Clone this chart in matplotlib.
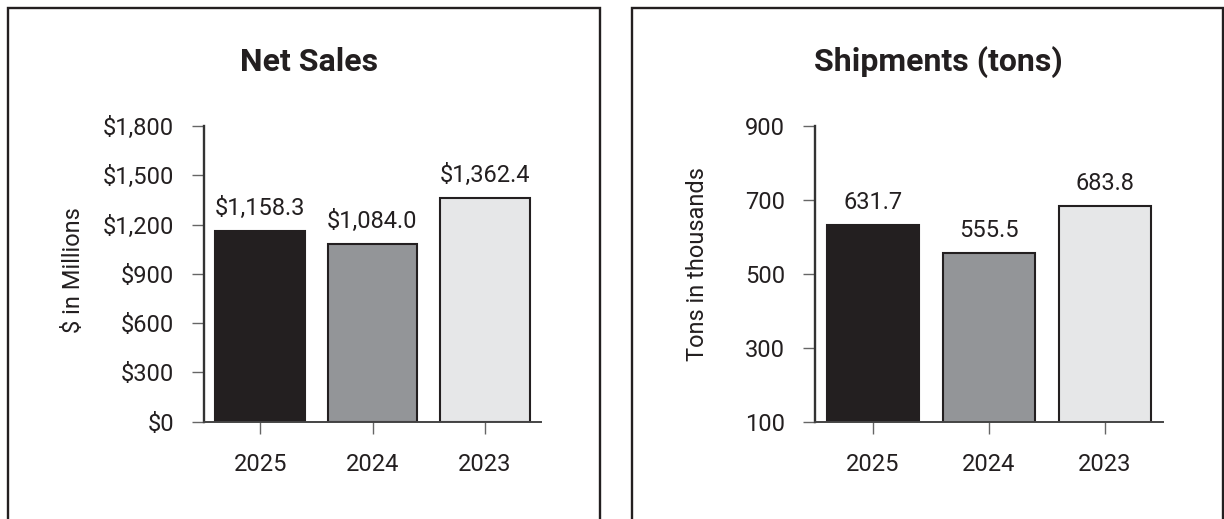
import matplotlib
matplotlib.use("Agg")
import matplotlib.pyplot as plt
from matplotlib.lines import Line2D
from matplotlib.ticker import FuncFormatter

plt.rcParams['font.family'] = ['Roboto', 'DejaVu Sans']

# data
years = ["2025", "2024", "2023"]
net_sales = [1158.3, 1084.0, 1362.4]
shipments = [631.7, 555.5, 683.8]
sales_ticks = [0, 300, 600, 900, 1200, 1500, 1800]
ship_ticks = [100, 300, 500, 700, 900]
bar_colors = ["#231f20", "#939598", "#e6e7e8"]

INK = "#231f20"
W, H = 1224, 519


def fx(px):
    return px / W


def fy(py):
    return 1 - py / H


fig = plt.figure(figsize=(W / 100, H / 100), dpi=100)

# panel frames (left, top and right sides only)
for x0, x1 in [(7.8, 599.5), (632.2, 1222.6)]:
    fig.add_artist(Line2D([fx(x0), fx(x0), fx(x1), fx(x1)],
                          [fy(530), fy(8.3), fy(8.3), fy(530)],
                          transform=fig.transFigure, color=INK, lw=1.7,
                          solid_joinstyle='miter'))


def draw_panel(rect, values, ticks, tick_fmt, val_fmt, title, title_x, ylabel, ylabel_xy):
    ax = fig.add_axes(rect)
    x = range(len(years))
    ax.bar(x, values, width=0.8, color=bar_colors, edgecolor=INK, linewidth=1.5)
    ax.set_xlim(-0.5, 2.5)
    ax.set_ylim(ticks[0], ticks[-1])
    ax.set_yticks(ticks)
    ax.yaxis.set_major_formatter(FuncFormatter(tick_fmt))
    ax.set_xticks(list(x))
    ax.set_xticklabels(years)
    for s in ["top", "right"]:
        ax.spines[s].set_visible(False)
    ax.spines["left"].set_color("#333333")
    ax.spines["left"].set_linewidth(1.7)
    ax.spines["bottom"].set_color("#444444")
    ax.spines["bottom"].set_linewidth(1.4)
    ax.tick_params(axis="both", direction="out", length=8.6, width=1.0,
                   color="#666666", labelsize=17, labelcolor=INK)
    ax.tick_params(axis="y", pad=13)
    ax.tick_params(axis="x", pad=14)
    for xi, v in zip(x, values):
        ax.annotate(val_fmt(v), (xi, v), xytext=(0, 11.5), textcoords="offset points",
                    ha="center", va="baseline", fontsize=17, color=INK)
    fig.text(fx(title_x), fy(71), title, ha="center", va="baseline",
             fontsize=23, fontweight="bold", color=INK)
    fig.text(fx(ylabel_xy[0]), fy(ylabel_xy[1]), ylabel, rotation=90,
             ha="center", va="center", fontsize=17, color=INK)
    return ax


draw_panel([fx(204), fy(421.7), fx(541) - fx(204), fy(126) - fy(421.7)],
           net_sales, sales_ticks,
           lambda v, p: f"${v:,.0f}", lambda v: f"${v:,.1f}",
           "Net Sales", 309, "$ in Millions", (74, 270))

draw_panel([fx(815), fy(421.7), fx(1163) - fx(815), fy(126) - fy(421.7)],
           shipments, ship_ticks,
           lambda v, p: f"{v:.0f}", lambda v: f"{v:.1f}",
           "Shipments (tons)", 938, "Tons in thousands", (698, 264))

fig.savefig("out.png", dpi=100)
